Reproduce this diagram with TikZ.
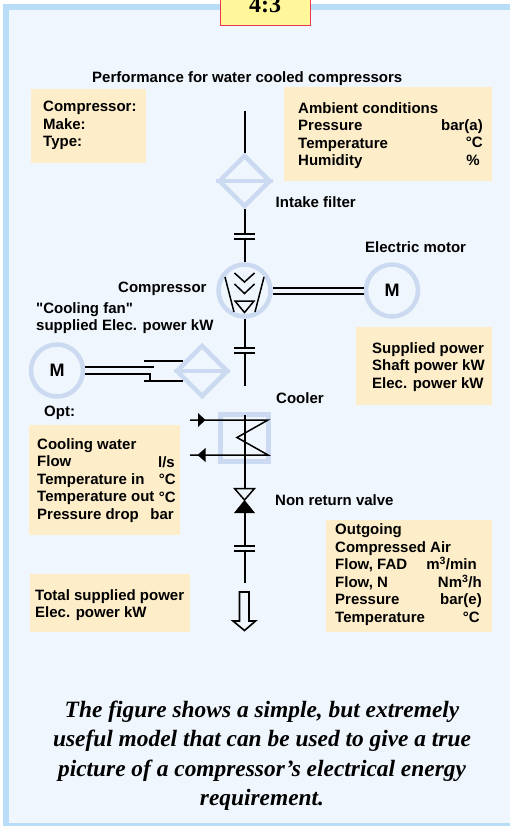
\documentclass[tikz,border=0pt]{standalone}
\usepackage{fontspec}
\newfontfamily\lblfont{Liberation Sans}
\newfontfamily\capfont{Liberation Serif}
\usetikzlibrary{positioning,shapes.geometric}
\definecolor{framebg}{HTML}{EFF6FD}
\definecolor{frameline}{HTML}{B9DDF7}
\definecolor{boxfill}{HTML}{FDEDC9}
\definecolor{symline}{HTML}{CBDAF0}
\definecolor{tabfill}{HTML}{FFF799}
\definecolor{tabline}{HTML}{E8384F}
\tikzset{
	lbl/.style={font=\lblfont\bfseries\fontsize{15pt}{17.5pt}\selectfont,inner sep=0pt,anchor=north west,align=left},
	unit/.style={font=\lblfont\bfseries\fontsize{15pt}{17.5pt}\selectfont,inner sep=0pt,anchor=north east,align=right},
	motorm/.style={font=\lblfont\bfseries\fontsize{18pt}{18pt}\selectfont,inner sep=0pt},
	symcircle/.style={circle,draw=symline,line width=4.5pt,minimum size=52pt,inner sep=0pt},
	symdiamond/.style={diamond,draw=symline,line width=4.5pt,minimum width=52pt,minimum height=52pt,inner sep=0pt},
	pipe/.style={line width=2pt,black},
	thin pipe/.style={line width=1.5pt,black},
}
\begin{document}
\begin{tikzpicture}[x=1pt,y=-1pt]
\useasboundingbox (0,0) rectangle (510,826);
\fill[white] (0,0) rectangle (510,826);
\fill[framebg] (3,4) rectangle (510,826);
\draw[frameline,line width=5.5pt] (510,7) -- (6,7) -- (6,825.5) -- (510,825.5);
\node[fill=tabfill,draw=tabline,line width=1pt,minimum width=90pt,minimum height=36pt,inner sep=0pt] (tab) at (265.5,7.5) {};
\node[font=\capfont\bfseries\fontsize{24pt}{24pt}\selectfont,inner sep=0pt,anchor=base] (tabtext) at (265,12.5) {4:3};
% tan boxes
\fill[boxfill] (31,89) rectangle (146,163);
\fill[boxfill] (284,87) rectangle (492,181);
\fill[boxfill] (356,327) rectangle (492,405);
\fill[boxfill] (29,425) rectangle (180,535);
\fill[boxfill] (30,574) rectangle (190,632);
\fill[boxfill] (326,520) rectangle (492,632);
% symbols
\node[symdiamond] (filter) at (244.5,181) {};
\node[symcircle] (comp) at (244.5,290.5) {};
\node[symcircle] (motor) at (392,290.5) {};
\node[symcircle] (fan) at (57,370.5) {};
\node[symdiamond] (cool) at (202,371) {};
\draw[symline,line width=4.5pt] (filter.west) -- (filter.east);
\draw[symline,line width=4.5pt] (cool.west) -- (cool.east);
\node[motorm] (motorm) at (motor) {M};
\node[motorm] (fanm) at (fan) {M};
% main line
\coordinate (top) at (244.5,111);
\coordinate (cpa) at (244.5,234);
\coordinate (cpb) at (244.5,239);
\coordinate (cpc) at (244.5,347.5);
\coordinate (cpd) at (244.5,353);
\coordinate (pipeend) at (244.5,386);
\coordinate (cooltop) at (244.5,415);
\coordinate (vtop) at (244.5,488);
\coordinate (vmid) at (244.5,500);
\coordinate (vbot) at (244.5,513);
\coordinate (cpe) at (244.5,546);
\coordinate (cpf) at (244.5,551);
\coordinate (outend) at (244.5,583);
\path[pipe]
	(top) edge (filter.north)
	(filter.south) edge (cpa)
	(cpb) edge (comp.north)
	(comp.south) edge (cpc)
	(cpd) edge (pipeend)
	(vbot) edge (cpe)
	(cpf) edge (outend);
\foreach \c in {cpa,cpb,cpc,cpd,cpe,cpf}{
	\draw[pipe] ([xshift=-10.5pt]\c) -- ([xshift=10.5pt]\c);
}
% shafts
\draw[pipe] ([yshift=3pt]comp.east) -- ([yshift=3pt]motor.west);
\draw[pipe] ([yshift=-3pt]comp.east) -- ([yshift=-3pt]motor.west);
\coordinate (fana) at (154,367);
\coordinate (fanb) at (150,373.5);
\coordinate (stuba) at (144,361);
\coordinate (stubb) at (144,381);
\draw[pipe] (fan.east |- fana) -- (fana);
\draw[pipe] (fan.east |- fanb) -- (fanb) -- (fanb |- stubb);
\draw[pipe] (stuba) -- (183,361);
\draw[pipe] (stubb) -- (183,381);
% compressor inside
\draw[thin pipe] (234.5,273) -- (244.5,282) -- (254.5,273);
\draw[thin pipe] (234.5,284) -- (244.5,293.5) -- (254.5,284);
\draw[thin pipe] (235,301) -- (254,301) -- (244.5,312.5) -- cycle;
\draw[thin pipe] (225,277) -- (234,312);
\draw[thin pipe] (264,277) -- (255,312);
% cooler
\draw[symline,line width=5pt] (220.5,414.5) rectangle (268.5,461.5);
\draw[pipe] (cooltop) -- (vtop);
\draw[thin pipe] (190,420) -- (268,420) -- (237,437.5) -- (268,455) -- (190,455);
\fill (198,413) -- (205.5,420) -- (198,427) -- cycle;
\fill (205.5,448) -- (197.5,455) -- (205.5,462) -- cycle;
% valve
\draw[thin pipe,fill=framebg] (234.5,488.5) -- (254.5,488.5) -- (vmid) -- cycle;
\fill (234,513) -- (255,513) -- (vmid) -- cycle;
% outlet arrow
\draw[line width=1.6pt] (239.5,592) -- (249,592) -- (249,621) -- (255.5,621) -- (244.5,630.5) -- (233,621) -- (239.5,621) -- cycle;
% labels
\node[lbl] (title) at (92,71) {Performance for water cooled compressors};
\node[lbl] (make) at (43,101) {Compressor:\\Make:\\Type:};
\node[lbl] (amb) at (298,102) {Ambient conditions\\Pressure\\Temperature\\Humidity};
\node[unit] (ambu) at (483,119) {bar(a)\\°C\hspace*{2pt}\\\%\hspace*{3pt}};
\node[lbl] (filtl) at (275.5,196) {Intake filter};
\node[lbl] (motl) at (365,241) {Electric motor};
\node[lbl] (compl) at (118,282) {Compressor};
\node[lbl] (fanl) at (36,302) {"Cooling fan"\\supplied Elec. power kW};
\node[lbl] (power) at (372,342) {Supplied power\\Shaft power kW\\Elec. power kW};
\node[lbl] (coolerl) at (276,392) {Cooler};
\node[lbl] (opt) at (44,406) {Opt:};
\node[lbl] (water) at (37,438) {Cooling water\\Flow\\Temperature in\\Temperature out\\Pressure drop};
\node[unit] (wateru) at (176,456) {l/s\hspace*{1pt}\\°C\hspace*{1.5pt}\\°C\\bar\hspace*{2pt}};
\node[lbl] (valve) at (275,494) {Non return valve};
\node[lbl] (air) at (335,523.5) {Outgoing\\Compressed Air\\Flow, FAD\\Flow, N\\Pressure\\Temperature};
\node[unit] (airu) at (482,557) {m\textsuperscript{3}/min\hspace*{5pt}\\Nm\textsuperscript{3}/h\hspace*{1pt}\\bar(e)\\°C\hspace*{2pt}};
\node[lbl] (total) at (35,589) {Total supplied power\\Elec. power kW};
\node[font=\capfont\bfseries\itshape\fontsize{23.4pt}{29.3pt}\selectfont,align=center,inner sep=0pt,anchor=north] (cap) at (262,701) {The figure shows a simple, but extremely\\useful model that can be used to give a true\\picture of a compressor’s electrical energy\\requirement.};
\end{tikzpicture}
\end{document}
